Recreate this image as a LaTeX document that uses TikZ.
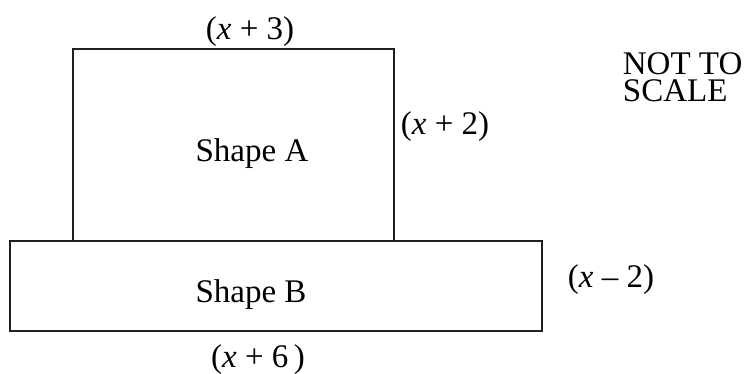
\documentclass[tikz,border=0pt]{standalone}
\usepackage{fontspec}
\setmainfont{Liberation Serif}
\begin{document}
\begin{tikzpicture}[x=1pt,y=-1pt,line width=1.8pt,
  lbl/.style={inner sep=0pt,font=\fontsize{33}{27}\selectfont}]
\useasboundingbox (0,0) rectangle (745,374);

% the two shapes
\draw[color=black!88] (73,241) -- (73,49) -- (394,49) -- (394,241);
\draw[color=black!88] (10,241) rectangle (542,331);

% labels
\node[lbl,anchor=base] (topA) at (250,40) {(\textit{x} + 3)};
\node[lbl,anchor=base west] (sideA) at (400,135) {(\textit{x} + 2)};
\node[lbl,anchor=base] (nameA) at (252,162) {Shape A};
\node[lbl,anchor=base] (nameB) at (251,303) {Shape B};
\node[lbl,anchor=base west] (sideB) at (567,288) {(\textit{x} – 2)};
\node[lbl,anchor=base] (baseB) at (258,367) {(\textit{x} + 6\,)};
\node[lbl,anchor=base west] (noteA) at (622,75) {NOT TO};
\node[lbl,anchor=base west] (noteB) at (622,102) {SCALE};
\end{tikzpicture}
\end{document}
